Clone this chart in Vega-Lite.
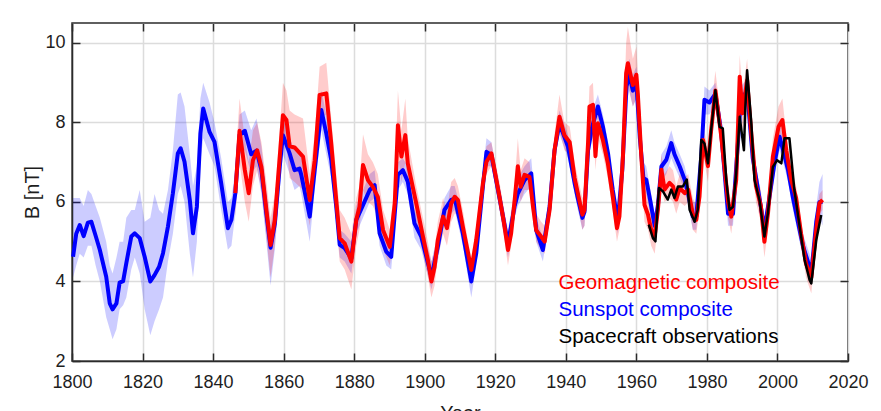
{
  "$schema": "https://vega.github.io/schema/vega-lite/v6.json",
  "width": 776,
  "height": 338,
  "autosize": {"type": "none"},
  "padding": {"left": 72, "top": 23, "right": 33, "bottom": 50},
  "background": "white",
  "config": {
    "font": "Liberation Sans",
    "view": {"stroke": "#2b2b2b", "strokeWidth": 1.5},
    "axis": {
      "labelFont": "Liberation Sans",
      "labelFontSize": 18,
      "labelColor": "#1e1e1e",
      "labelFlush": false,
      "titleFont": "Liberation Sans",
      "titleFontSize": 20,
      "titleFontWeight": "normal",
      "titleColor": "#1e1e1e",
      "gridColor": "#dcdcdc",
      "gridWidth": 1.5,
      "tickColor": "#2b2b2b",
      "tickWidth": 1.5,
      "domainColor": "#2b2b2b",
      "domainWidth": 1.5
    },
    "legend": {
      "labelFont": "Liberation Sans",
      "labelFontSize": 20.5
    }
  },
  "datasets": {
    "sunspot": [
      {"year": 1800.3, "b": 4.62, "lo": 4.1, "hi": 6.1},
      {"year": 1801.2, "b": 5.2, "lo": 4.4, "hi": 6.1},
      {"year": 1802.2, "b": 5.42, "lo": 4.7, "hi": 6.1},
      {"year": 1803.3, "b": 5.14, "lo": 4.6, "hi": 5.9},
      {"year": 1804.5, "b": 5.48, "lo": 4.9, "hi": 6.3},
      {"year": 1805.5, "b": 5.5, "lo": 4.9, "hi": 6.2},
      {"year": 1806.7, "b": 5.15, "lo": 4.4, "hi": 5.9},
      {"year": 1807.9, "b": 4.79, "lo": 4.0, "hi": 5.6},
      {"year": 1809.7, "b": 4.12, "lo": 3.1, "hi": 5.0},
      {"year": 1810.7, "b": 3.45, "lo": 2.8, "hi": 4.4},
      {"year": 1811.5, "b": 3.3, "lo": 2.55, "hi": 4.2},
      {"year": 1812.6, "b": 3.45, "lo": 2.8, "hi": 4.6},
      {"year": 1813.5, "b": 3.97, "lo": 3.3, "hi": 5.0},
      {"year": 1814.5, "b": 4.01, "lo": 3.4, "hi": 5.0},
      {"year": 1815.4, "b": 4.46, "lo": 3.6, "hi": 5.6},
      {"year": 1816.8, "b": 5.13, "lo": 4.3, "hi": 5.8},
      {"year": 1817.8, "b": 5.21, "lo": 4.6, "hi": 5.8},
      {"year": 1819.2, "b": 5.09, "lo": 4.2, "hi": 6.3},
      {"year": 1820.6, "b": 4.62, "lo": 3.3, "hi": 5.5},
      {"year": 1822.2, "b": 4.0, "lo": 2.65, "hi": 5.6},
      {"year": 1823.4, "b": 4.16, "lo": 3.0, "hi": 6.2},
      {"year": 1824.7, "b": 4.37, "lo": 3.3, "hi": 5.8},
      {"year": 1825.8, "b": 4.71, "lo": 3.6, "hi": 5.7},
      {"year": 1827.2, "b": 5.38, "lo": 4.5, "hi": 6.3},
      {"year": 1828.6, "b": 6.22, "lo": 5.2, "hi": 7.3},
      {"year": 1830.0, "b": 7.22, "lo": 6.2, "hi": 8.7},
      {"year": 1830.8, "b": 7.35, "lo": 6.4, "hi": 8.75},
      {"year": 1831.9, "b": 7.01, "lo": 6.0, "hi": 8.4},
      {"year": 1833.4, "b": 6.05, "lo": 4.7, "hi": 7.2},
      {"year": 1834.3, "b": 5.21, "lo": 4.1, "hi": 6.4},
      {"year": 1835.4, "b": 5.88, "lo": 5.0, "hi": 6.9},
      {"year": 1836.4, "b": 7.72, "lo": 7.0, "hi": 8.6},
      {"year": 1837.2, "b": 8.35, "lo": 7.6, "hi": 9.0},
      {"year": 1839.0, "b": 7.76, "lo": 7.2, "hi": 8.5},
      {"year": 1840.4, "b": 7.51, "lo": 6.9, "hi": 8.0},
      {"year": 1842.3, "b": 6.47, "lo": 5.8, "hi": 7.1},
      {"year": 1844.2, "b": 5.34, "lo": 4.8, "hi": 6.0},
      {"year": 1845.2, "b": 5.55, "lo": 4.9, "hi": 6.1},
      {"year": 1846.3, "b": 6.22, "lo": 5.7, "hi": 6.8},
      {"year": 1847.5, "b": 7.68, "lo": 7.2, "hi": 8.2},
      {"year": 1849.0, "b": 7.79, "lo": 7.3, "hi": 8.3},
      {"year": 1850.8, "b": 7.2, "lo": 6.7, "hi": 7.8},
      {"year": 1852.3, "b": 7.29, "lo": 6.9, "hi": 8.1},
      {"year": 1853.7, "b": 6.8, "lo": 6.2, "hi": 7.4},
      {"year": 1855.1, "b": 5.7, "lo": 5.0, "hi": 6.3},
      {"year": 1856.3, "b": 4.85, "lo": 3.9, "hi": 5.4},
      {"year": 1857.5, "b": 5.45, "lo": 4.8, "hi": 6.0},
      {"year": 1858.9, "b": 6.9, "lo": 6.3, "hi": 7.4},
      {"year": 1859.8, "b": 7.68, "lo": 7.2, "hi": 8.1},
      {"year": 1861.7, "b": 7.22, "lo": 6.7, "hi": 7.6},
      {"year": 1863.1, "b": 6.8, "lo": 6.3, "hi": 7.3},
      {"year": 1864.5, "b": 6.84, "lo": 6.4, "hi": 7.3},
      {"year": 1865.0, "b": 6.68, "lo": 6.2, "hi": 7.1},
      {"year": 1867.4, "b": 5.63, "lo": 5.0, "hi": 6.1},
      {"year": 1868.8, "b": 6.8, "lo": 6.3, "hi": 7.3},
      {"year": 1870.7, "b": 8.31, "lo": 7.8, "hi": 8.8},
      {"year": 1872.1, "b": 7.72, "lo": 7.2, "hi": 8.2},
      {"year": 1873.5, "b": 7.05, "lo": 6.6, "hi": 7.5},
      {"year": 1874.9, "b": 5.9, "lo": 5.5, "hi": 6.4},
      {"year": 1875.9, "b": 4.92, "lo": 4.6, "hi": 5.3},
      {"year": 1877.3, "b": 4.84, "lo": 4.5, "hi": 5.2},
      {"year": 1879.2, "b": 4.58, "lo": 4.2, "hi": 5.0},
      {"year": 1880.6, "b": 5.55, "lo": 5.2, "hi": 5.9},
      {"year": 1882.5, "b": 5.92, "lo": 5.6, "hi": 6.3},
      {"year": 1884.4, "b": 6.3, "lo": 6.0, "hi": 6.7},
      {"year": 1885.8, "b": 6.42, "lo": 6.1, "hi": 6.8},
      {"year": 1887.2, "b": 5.21, "lo": 4.9, "hi": 5.6},
      {"year": 1889.1, "b": 4.75, "lo": 4.4, "hi": 5.1},
      {"year": 1890.5, "b": 4.62, "lo": 4.3, "hi": 5.0},
      {"year": 1892.4, "b": 6.68, "lo": 6.3, "hi": 7.0},
      {"year": 1893.8, "b": 6.8, "lo": 6.5, "hi": 7.1},
      {"year": 1895.2, "b": 6.51, "lo": 6.2, "hi": 6.9},
      {"year": 1897.1, "b": 5.46, "lo": 5.1, "hi": 5.8},
      {"year": 1899.0, "b": 5.13, "lo": 4.8, "hi": 5.5},
      {"year": 1901.9, "b": 4.12, "lo": 3.8, "hi": 4.5},
      {"year": 1903.7, "b": 4.87, "lo": 4.5, "hi": 5.2},
      {"year": 1905.6, "b": 5.8, "lo": 5.5, "hi": 6.1},
      {"year": 1907.5, "b": 6.05, "lo": 5.7, "hi": 6.4},
      {"year": 1908.5, "b": 6.08, "lo": 5.8, "hi": 6.4},
      {"year": 1910.8, "b": 5.21, "lo": 4.9, "hi": 5.6},
      {"year": 1913.2, "b": 4.0, "lo": 3.6, "hi": 4.3},
      {"year": 1914.6, "b": 4.71, "lo": 4.4, "hi": 5.0},
      {"year": 1916.5, "b": 6.4, "lo": 6.1, "hi": 6.8},
      {"year": 1917.5, "b": 7.26, "lo": 6.9, "hi": 7.6},
      {"year": 1918.9, "b": 7.18, "lo": 6.9, "hi": 7.5},
      {"year": 1921.2, "b": 6.1, "lo": 5.8, "hi": 6.4},
      {"year": 1923.6, "b": 4.96, "lo": 4.6, "hi": 5.3},
      {"year": 1925.5, "b": 5.9, "lo": 5.6, "hi": 6.3},
      {"year": 1926.4, "b": 6.21, "lo": 5.9, "hi": 6.6},
      {"year": 1928.3, "b": 6.55, "lo": 6.2, "hi": 6.9},
      {"year": 1930.2, "b": 6.72, "lo": 6.4, "hi": 7.1},
      {"year": 1931.6, "b": 5.29, "lo": 5.0, "hi": 5.6},
      {"year": 1933.5, "b": 4.79, "lo": 4.5, "hi": 5.1},
      {"year": 1935.4, "b": 5.88, "lo": 5.6, "hi": 6.2},
      {"year": 1936.8, "b": 7.3, "lo": 7.0, "hi": 7.6},
      {"year": 1938.2, "b": 7.97, "lo": 7.7, "hi": 8.3},
      {"year": 1940.6, "b": 7.39, "lo": 7.1, "hi": 7.7},
      {"year": 1942.5, "b": 6.47, "lo": 6.2, "hi": 6.8},
      {"year": 1943.4, "b": 6.1, "lo": 5.8, "hi": 6.4},
      {"year": 1944.7, "b": 5.6, "lo": 5.3, "hi": 5.9},
      {"year": 1945.3, "b": 5.75, "lo": 5.4, "hi": 6.1},
      {"year": 1946.3, "b": 7.3, "lo": 7.0, "hi": 7.7},
      {"year": 1947.5, "b": 7.9, "lo": 7.6, "hi": 8.3},
      {"year": 1949.1, "b": 8.4, "lo": 8.1, "hi": 8.7},
      {"year": 1950.5, "b": 7.9, "lo": 7.6, "hi": 8.2},
      {"year": 1952.0, "b": 7.2, "lo": 6.9, "hi": 7.5},
      {"year": 1953.3, "b": 6.3, "lo": 6.0, "hi": 6.6},
      {"year": 1954.7, "b": 5.5, "lo": 5.2, "hi": 5.9},
      {"year": 1956.0, "b": 6.8, "lo": 6.5, "hi": 7.2},
      {"year": 1957.2, "b": 8.9, "lo": 8.5, "hi": 9.3},
      {"year": 1958.0, "b": 9.2, "lo": 8.8, "hi": 9.6},
      {"year": 1959.0, "b": 8.8, "lo": 8.4, "hi": 9.2},
      {"year": 1960.0, "b": 9.0, "lo": 8.6, "hi": 9.4},
      {"year": 1961.0, "b": 7.6, "lo": 7.2, "hi": 8.0},
      {"year": 1962.0, "b": 6.6, "lo": 6.3, "hi": 7.0},
      {"year": 1962.8, "b": 6.56, "lo": 6.2, "hi": 6.9},
      {"year": 1964.0, "b": 6.0, "lo": 5.7, "hi": 6.3},
      {"year": 1965.2, "b": 5.4, "lo": 5.1, "hi": 5.7},
      {"year": 1966.1, "b": 5.9, "lo": 5.6, "hi": 6.3},
      {"year": 1967.1, "b": 6.89, "lo": 6.5, "hi": 7.2},
      {"year": 1968.5, "b": 7.06, "lo": 6.7, "hi": 7.4},
      {"year": 1969.9, "b": 7.48, "lo": 7.1, "hi": 7.8},
      {"year": 1970.8, "b": 7.2, "lo": 6.9, "hi": 7.5},
      {"year": 1972.3, "b": 6.89, "lo": 6.6, "hi": 7.2},
      {"year": 1973.7, "b": 6.56, "lo": 6.3, "hi": 6.9},
      {"year": 1974.7, "b": 6.2, "lo": 5.9, "hi": 6.5},
      {"year": 1976.0, "b": 5.64, "lo": 5.3, "hi": 6.0},
      {"year": 1977.0, "b": 5.64, "lo": 5.3, "hi": 6.0},
      {"year": 1978.4, "b": 7.15, "lo": 6.8, "hi": 7.5},
      {"year": 1979.3, "b": 8.57, "lo": 8.2, "hi": 8.9},
      {"year": 1980.7, "b": 8.5, "lo": 8.2, "hi": 8.8},
      {"year": 1982.4, "b": 8.72, "lo": 8.4, "hi": 9.0},
      {"year": 1984.0, "b": 7.8, "lo": 7.5, "hi": 8.1},
      {"year": 1986.0, "b": 5.7, "lo": 5.4, "hi": 6.0},
      {"year": 1987.4, "b": 5.7, "lo": 5.4, "hi": 6.0},
      {"year": 1988.8, "b": 7.5, "lo": 7.2, "hi": 7.8},
      {"year": 1989.6, "b": 8.56, "lo": 8.2, "hi": 8.9},
      {"year": 1991.4, "b": 8.8, "lo": 8.5, "hi": 9.1},
      {"year": 1993.0, "b": 7.1, "lo": 6.8, "hi": 7.4},
      {"year": 1994.9, "b": 6.1, "lo": 5.8, "hi": 6.4},
      {"year": 1996.3, "b": 5.3, "lo": 5.0, "hi": 5.6},
      {"year": 1997.7, "b": 6.1, "lo": 5.8, "hi": 6.4},
      {"year": 1999.2, "b": 7.0, "lo": 6.7, "hi": 7.3},
      {"year": 2000.6, "b": 7.64, "lo": 7.3, "hi": 8.0},
      {"year": 2001.6, "b": 7.3, "lo": 7.0, "hi": 7.6},
      {"year": 2003.0, "b": 6.8, "lo": 6.5, "hi": 7.1},
      {"year": 2004.4, "b": 6.1, "lo": 5.8, "hi": 6.4},
      {"year": 2005.8, "b": 5.5, "lo": 5.2, "hi": 5.8},
      {"year": 2007.2, "b": 4.9, "lo": 4.6, "hi": 5.2},
      {"year": 2009.1, "b": 4.37, "lo": 4.1, "hi": 4.7},
      {"year": 2009.6, "b": 4.2, "lo": 3.9, "hi": 4.5},
      {"year": 2011.0, "b": 5.5, "lo": 5.1, "hi": 5.9},
      {"year": 2011.9, "b": 6.0, "lo": 5.6, "hi": 6.5},
      {"year": 2012.8, "b": 6.0, "lo": 5.4, "hi": 6.7}
    ],
    "geomagnetic": [
      {"year": 1846.3, "b": 6.22, "lo": 5.6, "hi": 6.9},
      {"year": 1847.5, "b": 7.79, "lo": 7.0, "hi": 8.6},
      {"year": 1849.0, "b": 6.8, "lo": 6.0, "hi": 7.6},
      {"year": 1850.1, "b": 6.22, "lo": 5.5, "hi": 7.0},
      {"year": 1851.3, "b": 7.05, "lo": 6.4, "hi": 7.8},
      {"year": 1852.5, "b": 7.3, "lo": 6.8, "hi": 8.0},
      {"year": 1853.7, "b": 6.88, "lo": 6.3, "hi": 7.5},
      {"year": 1855.1, "b": 5.8, "lo": 5.1, "hi": 6.5},
      {"year": 1856.3, "b": 4.92, "lo": 4.1, "hi": 5.6},
      {"year": 1857.5, "b": 5.55, "lo": 4.9, "hi": 6.2},
      {"year": 1858.9, "b": 7.14, "lo": 6.5, "hi": 7.8},
      {"year": 1859.8, "b": 8.18, "lo": 7.5, "hi": 9.0},
      {"year": 1860.8, "b": 8.06, "lo": 7.4, "hi": 8.8},
      {"year": 1861.7, "b": 7.4, "lo": 6.6, "hi": 8.3},
      {"year": 1863.1, "b": 7.37, "lo": 6.5, "hi": 8.2},
      {"year": 1865.5, "b": 7.14, "lo": 6.3, "hi": 8.1},
      {"year": 1867.4, "b": 6.05, "lo": 5.4, "hi": 6.7},
      {"year": 1868.8, "b": 7.05, "lo": 6.5, "hi": 7.7},
      {"year": 1870.2, "b": 8.69, "lo": 8.1, "hi": 9.4},
      {"year": 1872.1, "b": 8.73, "lo": 8.2, "hi": 9.5},
      {"year": 1873.5, "b": 7.47, "lo": 6.9, "hi": 8.1},
      {"year": 1874.9, "b": 6.05, "lo": 5.5, "hi": 6.7},
      {"year": 1875.9, "b": 5.09, "lo": 4.5, "hi": 5.8},
      {"year": 1877.3, "b": 4.96, "lo": 4.3, "hi": 5.6},
      {"year": 1879.2, "b": 4.5, "lo": 3.8, "hi": 5.2},
      {"year": 1880.6, "b": 5.55, "lo": 4.9, "hi": 6.1},
      {"year": 1881.5, "b": 5.88, "lo": 5.3, "hi": 6.4},
      {"year": 1882.5, "b": 6.93, "lo": 6.3, "hi": 7.7},
      {"year": 1883.9, "b": 6.55, "lo": 6.0, "hi": 7.2},
      {"year": 1885.3, "b": 6.38, "lo": 5.9, "hi": 7.0},
      {"year": 1886.7, "b": 6.13, "lo": 5.6, "hi": 6.7},
      {"year": 1888.2, "b": 5.29, "lo": 4.8, "hi": 5.8},
      {"year": 1890.1, "b": 4.87, "lo": 4.4, "hi": 5.3},
      {"year": 1891.5, "b": 5.96, "lo": 5.4, "hi": 6.5},
      {"year": 1892.4, "b": 7.93, "lo": 7.2, "hi": 8.8},
      {"year": 1893.4, "b": 7.14, "lo": 6.5, "hi": 7.8},
      {"year": 1894.5, "b": 7.68, "lo": 7.0, "hi": 8.6},
      {"year": 1895.2, "b": 6.97, "lo": 6.4, "hi": 7.6},
      {"year": 1896.2, "b": 6.55, "lo": 6.0, "hi": 7.1},
      {"year": 1897.6, "b": 5.96, "lo": 5.5, "hi": 6.4},
      {"year": 1899.5, "b": 5.13, "lo": 4.7, "hi": 5.6},
      {"year": 1900.9, "b": 4.54, "lo": 4.1, "hi": 5.0},
      {"year": 1901.9, "b": 4.0, "lo": 3.6, "hi": 4.5},
      {"year": 1902.8, "b": 4.37, "lo": 3.9, "hi": 4.8},
      {"year": 1903.7, "b": 5.04, "lo": 4.6, "hi": 5.5},
      {"year": 1905.2, "b": 5.63, "lo": 5.2, "hi": 6.1},
      {"year": 1906.3, "b": 5.34, "lo": 4.9, "hi": 5.8},
      {"year": 1907.5, "b": 5.96, "lo": 5.5, "hi": 6.5},
      {"year": 1908.5, "b": 6.13, "lo": 5.7, "hi": 6.6},
      {"year": 1909.4, "b": 6.05, "lo": 5.7, "hi": 6.4},
      {"year": 1910.8, "b": 5.38, "lo": 5.0, "hi": 5.8},
      {"year": 1912.3, "b": 4.71, "lo": 4.4, "hi": 5.0},
      {"year": 1913.2, "b": 4.29, "lo": 3.9, "hi": 4.6},
      {"year": 1914.6, "b": 5.04, "lo": 4.7, "hi": 5.4},
      {"year": 1916.5, "b": 6.47, "lo": 6.1, "hi": 6.8},
      {"year": 1917.5, "b": 7.01, "lo": 6.7, "hi": 7.4},
      {"year": 1918.9, "b": 7.22, "lo": 6.9, "hi": 7.5},
      {"year": 1919.8, "b": 6.8, "lo": 6.5, "hi": 7.1},
      {"year": 1921.2, "b": 6.13, "lo": 5.8, "hi": 6.5},
      {"year": 1922.5, "b": 5.46, "lo": 5.1, "hi": 5.8},
      {"year": 1923.6, "b": 4.79, "lo": 4.4, "hi": 5.2},
      {"year": 1924.5, "b": 5.21, "lo": 4.9, "hi": 5.6},
      {"year": 1925.5, "b": 6.05, "lo": 5.7, "hi": 6.5},
      {"year": 1926.4, "b": 6.9, "lo": 6.5, "hi": 7.6},
      {"year": 1927.2, "b": 6.38, "lo": 6.0, "hi": 6.8},
      {"year": 1928.3, "b": 6.68, "lo": 6.3, "hi": 7.1},
      {"year": 1929.7, "b": 6.63, "lo": 6.3, "hi": 7.0},
      {"year": 1930.7, "b": 5.88, "lo": 5.5, "hi": 6.3},
      {"year": 1931.6, "b": 5.29, "lo": 5.0, "hi": 5.7},
      {"year": 1933.0, "b": 5.13, "lo": 4.8, "hi": 5.5},
      {"year": 1934.0, "b": 5.0, "lo": 4.7, "hi": 5.4},
      {"year": 1935.4, "b": 5.8, "lo": 5.5, "hi": 6.2},
      {"year": 1936.8, "b": 7.3, "lo": 6.9, "hi": 7.7},
      {"year": 1938.2, "b": 8.14, "lo": 7.8, "hi": 8.7},
      {"year": 1939.6, "b": 7.68, "lo": 7.3, "hi": 8.0},
      {"year": 1941.1, "b": 7.5, "lo": 7.2, "hi": 7.9},
      {"year": 1942.5, "b": 6.6, "lo": 6.2, "hi": 7.0},
      {"year": 1943.4, "b": 6.22, "lo": 5.9, "hi": 6.6},
      {"year": 1944.7, "b": 5.68, "lo": 5.3, "hi": 6.1},
      {"year": 1945.3, "b": 5.8, "lo": 5.4, "hi": 6.2},
      {"year": 1946.3, "b": 7.48, "lo": 7.0, "hi": 8.0},
      {"year": 1946.7, "b": 8.4, "lo": 8.0, "hi": 8.9},
      {"year": 1947.7, "b": 8.44, "lo": 8.0, "hi": 9.0},
      {"year": 1948.4, "b": 7.15, "lo": 6.8, "hi": 7.6},
      {"year": 1949.1, "b": 7.98, "lo": 7.6, "hi": 8.4},
      {"year": 1950.5, "b": 7.56, "lo": 7.2, "hi": 8.0},
      {"year": 1951.9, "b": 6.98, "lo": 6.6, "hi": 7.4},
      {"year": 1953.3, "b": 6.14, "lo": 5.8, "hi": 6.5},
      {"year": 1954.5, "b": 5.34, "lo": 5.0, "hi": 5.8},
      {"year": 1955.2, "b": 5.64, "lo": 5.3, "hi": 6.0},
      {"year": 1956.2, "b": 7.15, "lo": 6.7, "hi": 7.6},
      {"year": 1957.1, "b": 9.24, "lo": 8.7, "hi": 10.0},
      {"year": 1957.6, "b": 9.49, "lo": 8.9, "hi": 10.4},
      {"year": 1959.0, "b": 8.94, "lo": 8.4, "hi": 9.6},
      {"year": 1960.0, "b": 9.2, "lo": 8.6, "hi": 9.9},
      {"year": 1960.4, "b": 8.74, "lo": 8.2, "hi": 9.3},
      {"year": 1961.4, "b": 7.15, "lo": 6.7, "hi": 7.6},
      {"year": 1962.3, "b": 5.93, "lo": 5.5, "hi": 6.4},
      {"year": 1963.3, "b": 5.68, "lo": 5.3, "hi": 6.1},
      {"year": 1964.2, "b": 5.3, "lo": 4.9, "hi": 5.7},
      {"year": 1965.2, "b": 5.14, "lo": 4.7, "hi": 5.5},
      {"year": 1966.1, "b": 5.8, "lo": 5.4, "hi": 6.2},
      {"year": 1967.1, "b": 6.81, "lo": 6.4, "hi": 7.2},
      {"year": 1968.0, "b": 6.31, "lo": 6.0, "hi": 6.7},
      {"year": 1969.4, "b": 6.48, "lo": 6.1, "hi": 6.9},
      {"year": 1970.4, "b": 6.39, "lo": 6.0, "hi": 6.8},
      {"year": 1971.3, "b": 6.06, "lo": 5.7, "hi": 6.4},
      {"year": 1972.3, "b": 6.35, "lo": 6.0, "hi": 6.7},
      {"year": 1973.7, "b": 6.22, "lo": 5.9, "hi": 6.6},
      {"year": 1974.7, "b": 6.31, "lo": 6.0, "hi": 6.7},
      {"year": 1976.0, "b": 5.68, "lo": 5.3, "hi": 6.1},
      {"year": 1977.0, "b": 5.55, "lo": 5.2, "hi": 5.9},
      {"year": 1977.9, "b": 6.14, "lo": 5.8, "hi": 6.5},
      {"year": 1978.9, "b": 7.56, "lo": 7.2, "hi": 8.0},
      {"year": 1980.3, "b": 6.9, "lo": 6.5, "hi": 7.3},
      {"year": 1981.2, "b": 7.8, "lo": 7.4, "hi": 8.3},
      {"year": 1982.4, "b": 8.8, "lo": 8.4, "hi": 9.3},
      {"year": 1984.0, "b": 7.7, "lo": 7.3, "hi": 8.1},
      {"year": 1986.0, "b": 6.0, "lo": 5.6, "hi": 6.4},
      {"year": 1986.9, "b": 5.63, "lo": 5.2, "hi": 6.0},
      {"year": 1988.3, "b": 6.55, "lo": 6.2, "hi": 7.0},
      {"year": 1989.3, "b": 9.15, "lo": 8.7, "hi": 9.7},
      {"year": 1990.1, "b": 8.23, "lo": 7.8, "hi": 8.7},
      {"year": 1991.4, "b": 9.06, "lo": 8.6, "hi": 9.6},
      {"year": 1992.6, "b": 7.7, "lo": 7.3, "hi": 8.1},
      {"year": 1993.9, "b": 6.4, "lo": 6.0, "hi": 6.8},
      {"year": 1995.3, "b": 5.9, "lo": 5.5, "hi": 6.3},
      {"year": 1996.3, "b": 5.0, "lo": 4.6, "hi": 5.4},
      {"year": 1997.3, "b": 5.7, "lo": 5.3, "hi": 6.1},
      {"year": 1998.7, "b": 7.14, "lo": 6.7, "hi": 7.6},
      {"year": 2000.3, "b": 7.89, "lo": 7.5, "hi": 8.4},
      {"year": 2001.4, "b": 8.06, "lo": 7.6, "hi": 8.6},
      {"year": 2002.5, "b": 7.3, "lo": 6.9, "hi": 7.7},
      {"year": 2003.9, "b": 6.55, "lo": 6.2, "hi": 6.9},
      {"year": 2005.3, "b": 6.1, "lo": 5.8, "hi": 6.4},
      {"year": 2006.7, "b": 5.2, "lo": 4.9, "hi": 5.5},
      {"year": 2008.1, "b": 4.45, "lo": 4.1, "hi": 4.8},
      {"year": 2009.6, "b": 4.1, "lo": 3.7, "hi": 4.4},
      {"year": 2011.0, "b": 5.3, "lo": 5.0, "hi": 5.6},
      {"year": 2011.9, "b": 5.97, "lo": 5.7, "hi": 6.2},
      {"year": 2012.8, "b": 6.05, "lo": 5.8, "hi": 6.3}
    ],
    "spacecraft": [
      {"year": 1963.5, "b": 5.43},
      {"year": 1964.7, "b": 5.09},
      {"year": 1965.4, "b": 5.01},
      {"year": 1966.4, "b": 6.35},
      {"year": 1967.5, "b": 6.27},
      {"year": 1968.9, "b": 6.06},
      {"year": 1969.9, "b": 6.31},
      {"year": 1970.8, "b": 6.1},
      {"year": 1971.8, "b": 6.39},
      {"year": 1973.2, "b": 6.39},
      {"year": 1974.3, "b": 6.56},
      {"year": 1975.1, "b": 5.8},
      {"year": 1976.5, "b": 5.5},
      {"year": 1977.4, "b": 5.8},
      {"year": 1978.4, "b": 7.56},
      {"year": 1979.3, "b": 7.47},
      {"year": 1980.3, "b": 6.97},
      {"year": 1981.2, "b": 7.81},
      {"year": 1982.4, "b": 8.81},
      {"year": 1983.6, "b": 7.89},
      {"year": 1984.5, "b": 7.85},
      {"year": 1985.5, "b": 6.55},
      {"year": 1986.4, "b": 5.8},
      {"year": 1987.4, "b": 5.88},
      {"year": 1988.3, "b": 6.72},
      {"year": 1989.3, "b": 8.14},
      {"year": 1989.9, "b": 7.72},
      {"year": 1990.5, "b": 7.3},
      {"year": 1990.9, "b": 8.39},
      {"year": 1991.4, "b": 9.31},
      {"year": 1992.6, "b": 7.97},
      {"year": 1993.5, "b": 6.55},
      {"year": 1994.9, "b": 6.05},
      {"year": 1996.3, "b": 5.13},
      {"year": 1997.3, "b": 5.72},
      {"year": 1998.7, "b": 6.88},
      {"year": 1999.9, "b": 7.05},
      {"year": 2001.1, "b": 6.97},
      {"year": 2002.0, "b": 7.6},
      {"year": 2003.4, "b": 7.6},
      {"year": 2004.8, "b": 6.3},
      {"year": 2006.3, "b": 5.38},
      {"year": 2007.7, "b": 4.54},
      {"year": 2009.1, "b": 4.04},
      {"year": 2009.6, "b": 3.95},
      {"year": 2011.0, "b": 5.04},
      {"year": 2012.4, "b": 5.67}
    ]
  },
  "layer": [
    {
      "data": {"name": "sunspot"},
      "mark": {"type": "area", "color": "#0000ff", "opacity": 0.2},
      "encoding": {
        "x": {
          "field": "year", "type": "quantitative",
          "scale": {"domain": [1800, 2020], "nice": false, "zero": false},
          "axis": {
            "orient": "bottom",
            "values": [1800, 1820, 1840, 1860, 1880, 1900, 1920, 1940, 1960, 1980, 2000, 2020],
            "format": "d",
            "tickSize": -8,
            "labelPadding": 20,
            "grid": true,
            "title": "Year",
            "titlePadding": 12
          }
        },
        "y": {
          "field": "lo", "type": "quantitative",
          "scale": {"domain": [2, 10.5], "nice": false, "zero": false},
          "axis": {
            "orient": "left",
            "values": [2, 4, 6, 8, 10],
            "tickSize": -8,
            "labelPadding": 15,
            "grid": true,
            "title": "B [nT]",
            "titlePadding": 2
          }
        },
        "y2": {"field": "hi"}
      }
    },
    {
      "data": {"name": "geomagnetic"},
      "mark": {"type": "area", "color": "#ff0000", "opacity": 0.2},
      "encoding": {
        "x": {
          "field": "year", "type": "quantitative",
          "scale": {"domain": [1800, 2020], "nice": false, "zero": false},
          "axis": {
            "orient": "top",
            "values": [1800, 1820, 1840, 1860, 1880, 1900, 1920, 1940, 1960, 1980, 2000, 2020],
            "tickSize": -8,
            "labels": false,
            "domain": false,
            "grid": false,
            "title": null
          }
        },
        "y": {
          "field": "lo", "type": "quantitative",
          "scale": {"domain": [2, 10.5], "nice": false, "zero": false},
          "axis": {
            "orient": "right",
            "values": [2, 4, 6, 8, 10],
            "tickSize": -8,
            "labels": false,
            "domain": false,
            "grid": false,
            "title": null
          }
        },
        "y2": {"field": "hi"}
      }
    },
    {
      "data": {"name": "sunspot"},
      "mark": {"type": "line", "strokeWidth": 4, "strokeJoin": "round"},
      "encoding": {
        "x": {"field": "year", "type": "quantitative", "scale": {"domain": [1800, 2020], "nice": false, "zero": false}, "axis": null},
        "y": {"field": "b", "type": "quantitative", "scale": {"domain": [2, 10.5], "nice": false, "zero": false}, "axis": null},
        "color": {
          "datum": "Sunspot composite",
          "scale": {
            "domain": ["Geomagnetic composite", "Sunspot composite", "Spacecraft observations"],
            "range": ["#ff0000", "#0000ff", "#000000"]
          },
          "legend": {
            "orient": "none",
            "legendX": 466,
            "legendY": 250,
            "title": null,
            "padding": 0,
            "symbolSize": 0,
            "symbolStrokeWidth": 0,
            "symbolOpacity": 0,
            "labelOffset": 0,
            "rowPadding": 6,
            "labelLimit": 400,
            "labelColor": {"expr": "scale('color', datum.value)"}
          }
        }
      }
    },
    {
      "data": {"name": "geomagnetic"},
      "mark": {"type": "line", "strokeWidth": 4, "strokeJoin": "round"},
      "encoding": {
        "x": {"field": "year", "type": "quantitative", "scale": {"domain": [1800, 2020], "nice": false, "zero": false}, "axis": null},
        "y": {"field": "b", "type": "quantitative", "scale": {"domain": [2, 10.5], "nice": false, "zero": false}, "axis": null},
        "color": {"datum": "Geomagnetic composite"}
      }
    },
    {
      "data": {"name": "spacecraft"},
      "mark": {"type": "line", "strokeWidth": 2.5, "strokeJoin": "round"},
      "encoding": {
        "x": {"field": "year", "type": "quantitative", "scale": {"domain": [1800, 2020], "nice": false, "zero": false}, "axis": null},
        "y": {"field": "b", "type": "quantitative", "scale": {"domain": [2, 10.5], "nice": false, "zero": false}, "axis": null},
        "color": {"datum": "Spacecraft observations"}
      }
    }
  ],
  "resolve": {
    "scale": {"x": "shared", "y": "shared", "color": "shared"},
    "axis": {"x": "independent", "y": "independent"}
  }
}
